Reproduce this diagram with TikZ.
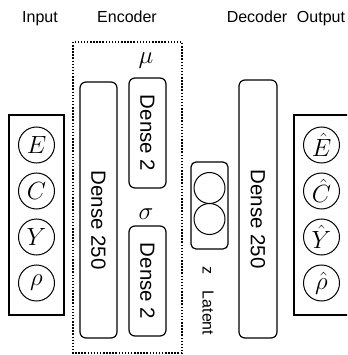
\documentclass[tikz,border=0pt]{standalone}
\usepackage{fontspec}
\setmainfont{Liberation Sans}

\begin{document}
\begin{tikzpicture}[
    x=1pt,y=-1pt,
    every node/.style={inner sep=0pt},
    heading/.style={font=\fontsize{16}{19}\selectfont, anchor=base},
    layerbox/.style={draw, line width=1.2pt, rounded corners=6pt, rotate=-90},
    layertext/.style={font=\fontsize{20.5}{24}\selectfont, rotate=-90},
    framebox/.style={draw, line width=1.2pt, minimum width=55pt, minimum height=200pt},
    unit/.style={draw, circle, line width=1pt, minimum size=36pt, font=\fontsize{23}{27}\selectfont},
    latentunit/.style={draw, circle, line width=1pt, minimum size=31pt},
    greek/.style={font=\fontsize{23}{27}\selectfont, anchor=base}
]
\useasboundingbox (0,0) rectangle (347,355);
\clip (0,0) rectangle (347,355);

% column headings
\node[heading] (h-in)  at (40,23)  {Input};
\node[heading] (h-enc) at (127,23) {Encoder};
\node[heading] (h-dec) at (257,23) {Decoder};
\node[heading] (h-out) at (321,23) {Output};

% input and output units
\node[framebox] (inbox)  at (36.5,215) {};
\node[framebox] (outbox) at (321.5,215) {};
\foreach \v/\y/\n in {E/145/e, C/191/c, Y/237/y, \rho/283/rho} {
    \node[unit] (in-\n)  at (36.5,\y)  {$\v$};
    \node[unit] (out-\n) at (321.5,\y) {$\hat{\v}$};
}

% encoder
\draw[line width=1.5pt, dash pattern=on 1.5pt off 1.6pt] (73,42) rectangle (182,353);
\node[layerbox, minimum width=256pt, minimum height=37pt] (enc) at (98.5,210) {};
\node[layertext] (enc-txt) at (98.5,220) {Dense 250};
\node[layerbox, minimum width=110pt, minimum height=37pt] (mu) at (147.5,133) {};
\node[layertext] (mu-txt) at (147.5,133) {Dense 2};
\node[layerbox, minimum width=110pt, minimum height=37pt] (sigma) at (147.5,281) {};
\node[layertext] (sigma-txt) at (147.5,281) {Dense 2};
\node[greek] (mu-lbl)    at (146,64)  {$\mu$};
\node[greek] (sigma-lbl) at (146,219) {$\sigma$};

% latent space
\node[draw, line width=1.2pt, rounded corners=5pt, minimum width=37pt, minimum height=87pt] (latent) at (209.5,205.5) {};
\node[latentunit] (z-1) at (209.5,188) {};
\node[latentunit] (z-2) at (209.5,219) {};
\node[font=\fontsize{16}{19}\selectfont, rotate=-90] (z-lbl) at (208,301) {z\quad Latent};

% decoder
\node[layerbox, minimum width=258pt, minimum height=38pt] (dec) at (258,209) {};
\node[layertext] (dec-txt) at (258,219) {Dense 250};
\end{tikzpicture}
\end{document}
